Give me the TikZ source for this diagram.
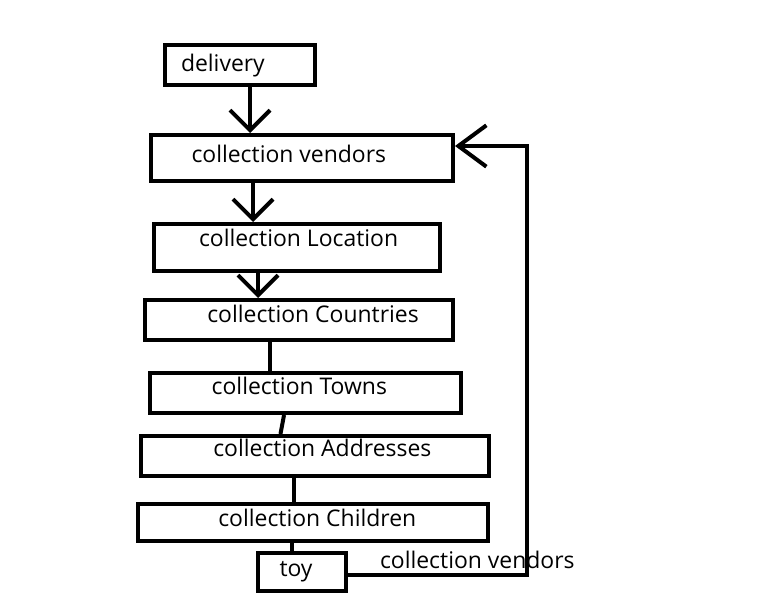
\documentclass[tikz,border=0pt]{standalone}
\usepackage{fontspec}
\setmainfont{Open Sans}
\usetikzlibrary{arrows.meta,positioning}

\tikzset{
  box/.style={draw=black,line width=3pt,rectangle,inner sep=0pt},
  txt/.style={anchor=base west,inner sep=0pt,font=\fontsize{17.2}{20}\selectfont},
  arr/.style={-{Straight Barb[length=15pt,width=30pt]}},
}

\begin{document}
\begin{tikzpicture}[x=0.75pt,y=-0.75pt,line width=3pt]
\fill[white] (0,0) rectangle (759,605);
\useasboundingbox (0,0) rectangle (759,605);
% boxes
\node[box,minimum width=112.5pt,minimum height=30pt] (delivery) at (240,65) {};
\node[box,minimum width=226.5pt,minimum height=34.5pt] (vendors) at (302,158) {};
\node[box,minimum width=214.5pt,minimum height=35.25pt] (location) at (297,247.5) {};
\node[box,minimum width=231pt,minimum height=30pt] (countries) at (299,320) {};
\node[box,minimum width=233.25pt,minimum height=30pt] (towns) at (305.5,393) {};
\node[box,minimum width=261pt,minimum height=30pt] (addresses) at (315,456) {};
\node[box,minimum width=262.5pt,minimum height=27.75pt] (children) at (313,522.5) {};
\node[box,minimum width=66pt,minimum height=28.5pt] (toy) at (302,572) {};
% texts
\node[txt] (deliverytxt) at (179,71.7) {delivery};
\node[txt] (vendorstxt) at (189.5,162.7) {collection vendors};
\node[txt] (locationtxt) at (197,246.7) {collection Location};
\node[txt] (countriestxt) at (205.3,322.7) {collection Countries};
\node[txt] (townstxt) at (209.7,394.5) {collection Towns};
\node[txt] (addressestxt) at (211.3,456) {collection Addresses};
\node[txt] (childrentxt) at (216.3,526.7) {collection Children};
\node[txt] (toytxt) at (277.5,576.7) {toy};
\node[txt] (backtxt) at (378,568.3) {collection vendors};
% connectors
\coordinate (turn) at (527,146);
\draw[arr] ([xshift=7.5pt]delivery.south) -- ([xshift=7.5pt]delivery.south |- vendors.north);
\draw[arr] ([xshift=-36.75pt]vendors.south) -- ([xshift=-36.75pt]vendors.south |- location.north);
\draw[arr] ([xshift=-29.25pt]location.south) -- ([xshift=-29.25pt]location.south |- countries.north);
\draw ([xshift=-21.75pt]countries.south) -- ([xshift=-21.75pt]countries.south |- towns.north);
\draw ([xshift=-16.1pt]towns.south) -- ([xshift=-25.9pt]addresses.north);
\draw ([xshift=-15.75pt]addresses.south) -- ([xshift=-15.75pt]addresses.south |- children.north);
\draw ([xshift=-15.75pt]children.south) -- ([xshift=-15.75pt]children.south |- toy.north);
\draw[-{Straight Barb[length=21pt,width=31pt]}] ([yshift=-2.25pt]toy.east) -| (turn) -- (vendors.east |- turn);
\end{tikzpicture}
\end{document}
